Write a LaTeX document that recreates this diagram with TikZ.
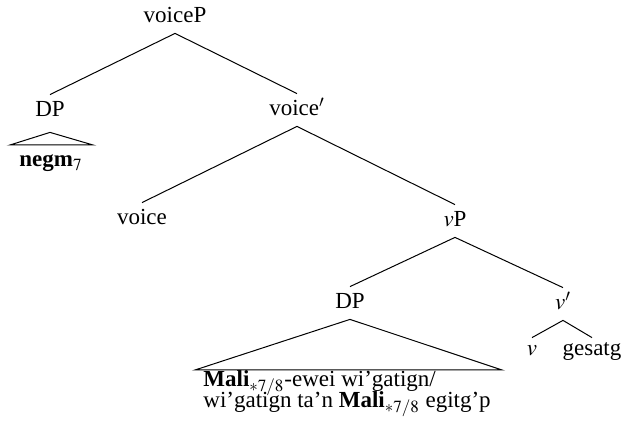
\documentclass[tikz,border=0pt]{standalone}
\usepackage{mathptmx}
\usepackage{fontspec}
\setmainfont{Liberation Serif}
\begin{document}
\begin{tikzpicture}[x=0.5pt,y=-0.5pt,
  every node/.style={font=\fontsize{11.5}{13.5}\selectfont},
  lab/.style={anchor=base, inner xsep=0pt, inner ysep=4.5pt, text height=6.5pt, text depth=0.5pt},
  leaf/.style={anchor=base, inner xsep=0pt, inner ysep=2.5pt, text height=6.5pt, text depth=0.5pt},
  plain/.style={anchor=base west, inner sep=0pt},
  branch/.style={line width=0.5pt}]
\useasboundingbox (0,0) rectangle (622,432);
% labels
\node[lab] (vceP) at (175,23) {voiceP};
\node[lab] (dpa) at (50,117) {DP};
\node[lab] (vcebar) at (297,116) {voice$'$};
\node[lab] (vce) at (142,225) {voice};
\node[lab] (vP) at (455,227) {$v$P};
\node[lab] (dpb) at (350,309) {DP};
\node[lab] (vbar) at (563,310) {$v'$};
\node[leaf] (vhead) at (532,356) {$v$};
\node[leaf] (gesatg) at (592,356) {gesatg};
\node[lab, inner ysep=0pt] (negm) at (51,167) {\textbf{negm}$_7$};
% the two lines under the lower roof; the subscripts are raised a little
\node[plain, text depth=1pt] (lineA) at (203,387) {\textbf{Mali}$_{\raisebox{0.6pt}{$\scriptstyle\ast7/8$}}$-ewei wi'gatign/};
\node[plain, text height=7pt] (lineB) at (203,408) {wi'gatign ta'n \textbf{Mali}$_{\ast7/8}$ egitg'p};
% roof corners
\coordinate (ra) at (10,145);
\coordinate (rb) at (93,145);
\coordinate (rc) at (195,370);
\coordinate (rd) at (502,370);
% branches
\draw[branch] (vceP.south) -- (dpa.north);
\draw[branch] (vceP.south) -- (vcebar.north);
\draw[branch] (vcebar.south) -- (vce.north);
\draw[branch] (vcebar.south) -- (vP.north);
\draw[branch] (vP.south) -- (dpb.north);
\draw[branch] (vP.south) -- (vbar.north);
\draw[branch] (vbar.south) -- (vhead.north);
\draw[branch] (vbar.south) -- (gesatg.north);
% roofs
\draw[branch] ([yshift=-2.5pt]dpa.south) -- (ra) -- (rb) -- cycle;
\draw[branch] (dpb.south) -- (rc) -- (rd) -- cycle;
\end{tikzpicture}
\end{document}
